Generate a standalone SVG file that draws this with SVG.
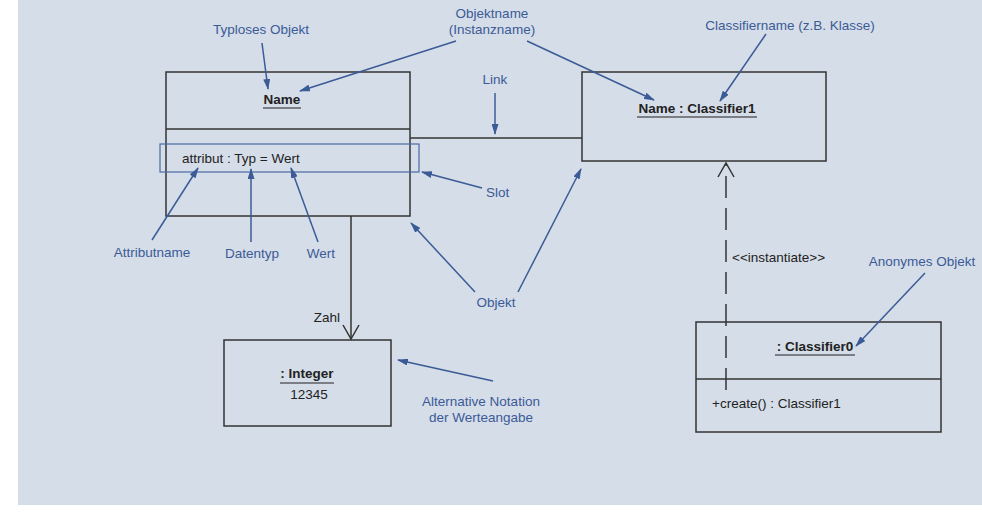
<svg xmlns="http://www.w3.org/2000/svg" width="982" height="532" viewBox="0 0 982 532">
<defs>
<style>
.box{fill:none;stroke:#333;stroke-width:1.5}
.t{font-family:"Liberation Sans",Arial,sans-serif;font-size:13.5px;fill:#222}
.b{font-weight:bold}
.lbl{font-family:"Liberation Sans",Arial,sans-serif;font-size:13.5px;fill:#3b5b97}
.ul{stroke:#222;stroke-width:1.2}
.ann{stroke:#3b5b97;stroke-width:1.5;fill:none;marker-end:url(#ah)}
.con{stroke:#333;stroke-width:1.5;fill:none}
</style>
<marker id="ah" markerWidth="11" markerHeight="7" refX="10" refY="3.5" orient="auto" markerUnits="userSpaceOnUse">
<path d="M0,0 L11,3.5 L0,7 Z" fill="#3b5b97"/>
</marker>
<marker id="open" markerWidth="18" markerHeight="18" refX="16" refY="9" orient="auto" markerUnits="userSpaceOnUse">
<path d="M2,1 L16,9 L2,17" fill="none" stroke="#333" stroke-width="1.5"/>
</marker>
</defs>
<rect x="18" y="0" width="964" height="505" fill="#d5dde8"/>

<g id="connectors">
<line class="con" x1="410" y1="138" x2="582" y2="138"/>
<line class="con" x1="351" y1="216" x2="351" y2="339" marker-end="url(#open)"/>
<line class="con" x1="726" y1="390" x2="726" y2="163" stroke-dasharray="22,10" marker-end="url(#open)"/>
<text class="t" x="327" y="322" text-anchor="middle">Zahl</text>
<text class="t" x="732" y="262">&lt;&lt;instantiate&gt;&gt;</text>
</g>

<g id="obj-name">
<rect class="box" x="166" y="72" width="244" height="144"/>
<line class="box" x1="166" y1="129" x2="410" y2="129"/>
<text class="t b" x="282" y="104" text-anchor="middle">Name</text>
<line class="ul" x1="263" y1="108" x2="301" y2="108"/>
<rect x="160" y="144" width="259" height="28" fill="none" stroke="#4a6aa3" stroke-width="1.2"/>
<text class="t" x="182" y="163">attribut : Typ = Wert</text>
</g>

<g id="obj-classifier1">
<rect class="box" x="582" y="72" width="244" height="89"/>
<text class="t b" x="697" y="113" text-anchor="middle">Name : Classifier1</text>
<line class="ul" x1="637" y1="117" x2="757" y2="117"/>
</g>

<g id="obj-integer">
<rect class="box" x="224" y="340" width="167" height="86"/>
<text class="t b" x="307" y="378" text-anchor="middle">: Integer</text>
<line class="ul" x1="280" y1="383" x2="334" y2="383"/>
<text class="t" x="309" y="399" text-anchor="middle">12345</text>
</g>

<g id="obj-classifier0">
<rect class="box" x="696" y="322" width="245" height="110"/>
<line class="box" x1="696" y1="379" x2="941" y2="379"/>
<text class="t b" x="815" y="351" text-anchor="middle">: Classifier0</text>
<line class="ul" x1="775" y1="355" x2="855" y2="355"/>
<text class="t" x="712" y="408">+create() : Classifier1</text>
</g>

<g id="annotations">
<text class="lbl" x="261" y="34" text-anchor="middle">Typloses Objekt</text>
<line class="ann" x1="262" y1="43" x2="268" y2="89"/>
<text class="lbl" x="492" y="18" text-anchor="middle">Objektname</text>
<text class="lbl" x="492" y="34" text-anchor="middle">(Instanzname)</text>
<line class="ann" x1="456" y1="41" x2="300" y2="91"/>
<line class="ann" x1="527" y1="41" x2="654" y2="100"/>
<text class="lbl" x="790" y="30" text-anchor="middle">Classifiername (z.B. Klasse)</text>
<line class="ann" x1="766" y1="34" x2="720" y2="101"/>
<text class="lbl" x="495" y="84" text-anchor="middle">Link</text>
<line class="ann" x1="495" y1="93" x2="495" y2="134"/>
<text class="lbl" x="486" y="197">Slot</text>
<line class="ann" x1="482" y1="188" x2="422" y2="172"/>
<text class="lbl" x="152" y="257" text-anchor="middle">Attributname</text>
<line class="ann" x1="152" y1="240" x2="198" y2="168"/>
<text class="lbl" x="252" y="258" text-anchor="middle">Datentyp</text>
<line class="ann" x1="251" y1="242" x2="251" y2="169"/>
<text class="lbl" x="321" y="258" text-anchor="middle">Wert</text>
<line class="ann" x1="318" y1="242" x2="291" y2="168"/>
<text class="lbl" x="496" y="307" text-anchor="middle">Objekt</text>
<line class="ann" x1="475" y1="292" x2="411" y2="223"/>
<line class="ann" x1="518" y1="292" x2="581" y2="169"/>
<text class="lbl" x="481" y="406" text-anchor="middle">Alternative Notation</text>
<text class="lbl" x="481" y="422" text-anchor="middle">der Werteangabe</text>
<line class="ann" x1="493" y1="381" x2="398" y2="360"/>
<text class="lbl" x="922" y="266" text-anchor="middle">Anonymes Objekt</text>
<line class="ann" x1="925" y1="273" x2="856" y2="346"/>
</g>
</svg>
